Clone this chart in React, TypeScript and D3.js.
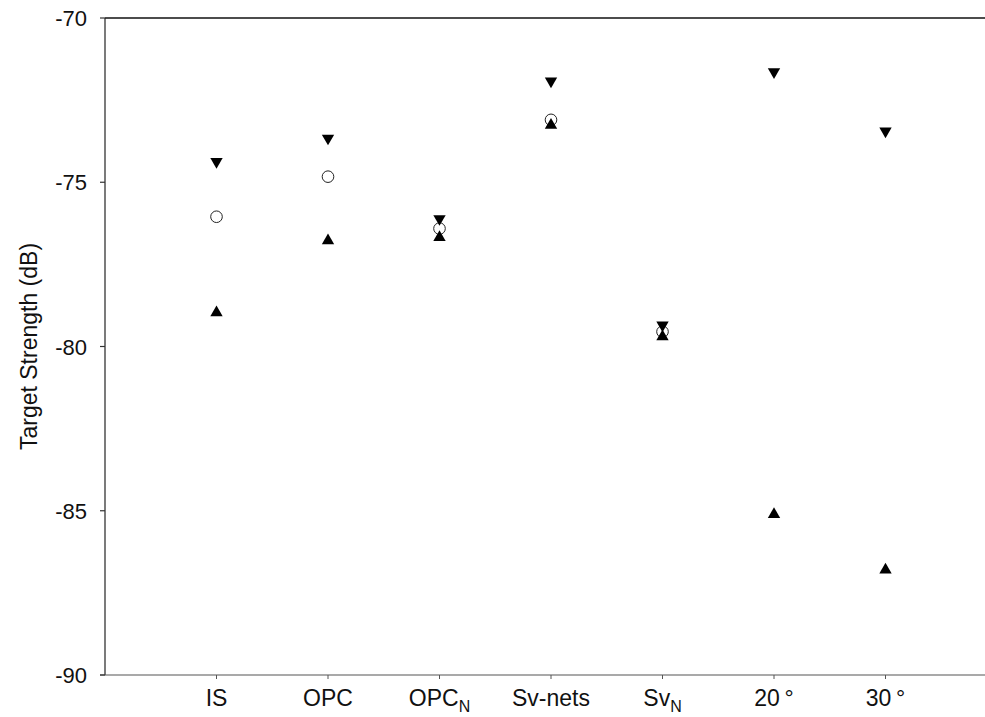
import React from "react";
import * as d3 from "d3";

const categories = ["IS", "OPC", "OPC_N", "Sv-nets", "Sv_N", "20\u2009°", "30\u2009°"];
const upperValues = [-74.37, -73.66, -76.11, -71.92, -79.35, -71.64, -73.44];
const meanValues: (number | null)[] = [-76.05, -74.83, -76.41, -73.1, -79.55, null, null];
const lowerValues = [-78.97, -76.78, -76.68, -73.26, -79.7, -85.11, -86.8];
const yTicks = [-70, -75, -80, -85, -90];

const W = 985;
const H = 717;
const left = 105;
const top = 18;
const bottom = 675;

export default function App() {
  const x = d3.scaleLinear().domain([0, 8]).range([left, left + 8 * 111.5]);
  const y = d3.scaleLinear().domain([-90, -70]).range([bottom, top]);
  const tri = d3.symbol().type(d3.symbolTriangle).size(66)()!;
  const font = "Arial, 'Liberation Sans', Helvetica, sans-serif";

  const renderLabel = (c: string) => {
    const parts = c.split("_");
    if (parts.length === 2) {
      return (
        <>
          {parts[0]}
          <tspan fontSize={16} dy={6}>{parts[1]}</tspan>
        </>
      );
    }
    return c;
  };

  return (
    <svg
      width={W}
      height={H}
      style={{ position: "absolute", left: 0, top: 0, background: "#fff" }}
      fontFamily={font}
    >
      {/* frame */}
      <line x1={left} x2={W} y1={top} y2={top} stroke="#111" strokeWidth={1.5} />
      <line x1={left} x2={left} y1={top} y2={bottom} stroke="#222" strokeWidth={1.2} />
      <line x1={left - 5} x2={W} y1={bottom} y2={bottom} stroke="#555" strokeWidth={1.2} />

      {/* y ticks */}
      {yTicks.map((t) => (
        <g key={t}>
          <line x1={left - 5} x2={left} y1={y(t)} y2={y(t)} stroke="#333" strokeWidth={1.2} />
          <text x={87} y={y(t) + 8} textAnchor="end" fontSize={22} fill="#111">
            {t}
          </text>
        </g>
      ))}

      {/* x ticks */}
      {categories.map((c, i) => (
        <g key={c}>
          <line x1={x(i + 1)} x2={x(i + 1)} y1={bottom} y2={bottom + 4} stroke="#555" strokeWidth={1} />
          <text x={x(i + 1)} y={706} textAnchor="middle" fontSize={23} fill="#111">
            {renderLabel(c)}
          </text>
        </g>
      ))}

      {/* y label */}
      <text
        transform={`translate(37, ${(top + bottom) / 2}) rotate(-90)`}
        textAnchor="middle"
        fontSize={23}
        fill="#111"
      >
        Target Strength (dB)
      </text>

      {/* means */}
      {meanValues.map((v, i) =>
        v === null ? null : (
          <circle key={"m" + i} cx={x(i + 1)} cy={y(v)} r={5.8} fill="#fff" stroke="#222" strokeWidth={1} />
        )
      )}
      {/* upper (down triangles) */}
      {upperValues.map((v, i) => (
        <path key={"u" + i} d={tri} transform={`translate(${x(i + 1)},${y(v)}) rotate(180)`} fill="#000" />
      ))}
      {/* lower (up triangles) */}
      {lowerValues.map((v, i) => (
        <path key={"l" + i} d={tri} transform={`translate(${x(i + 1)},${y(v)})`} fill="#000" />
      ))}
    </svg>
  );
}
